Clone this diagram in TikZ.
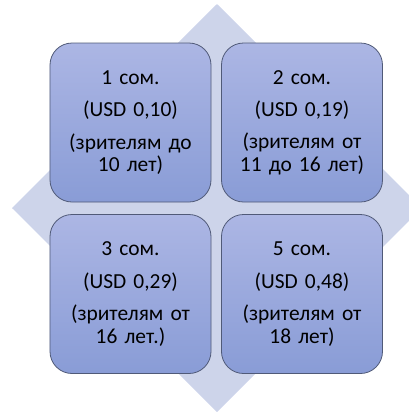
\documentclass[tikz,border=0pt]{standalone}
\usepackage{fontspec}
\setmainfont{Carlito}
\usetikzlibrary{positioning}
\definecolor{diamondfill}{RGB}{205,212,234}
\definecolor{boxtop}{RGB}{172,182,228}
\definecolor{boxbottom}{RGB}{137,156,214}
\definecolor{boxline}{RGB}{80,90,120}

\begin{document}
\begin{tikzpicture}[x=1bp, y=-1bp, every node/.style={font=\fontsize{21.5}{22.5}\selectfont}]
      \tikzset{
	  price/.style={rectangle, rounded corners=22bp, top color=boxtop, bottom color=boxbottom, draw=boxline, line width=0.8bp, minimum width=161bp, minimum height=159bp, align=center, text width=155bp, inner sep=0bp},
      }
      \useasboundingbox (0,0) rectangle (409,412);
      \clip (0,0) rectangle (409,412);
      % diamond behind the boxes
      \fill[diamondfill] (217,4) -- (422,208) -- (217,412) -- (12,208) -- cycle;

      \node (one) at (130.5, 122.5) [price] {1 сом.\\[10bp] (USD 0,10)\\[10bp] (зрителям до\\ 10 лет)};
      \node (two) at (302, 122.5) [price] {2 сом.\\[10bp] (USD 0,19)\\[10bp] (зрителям от\\ 11 до 16 лет)};
      \node (three) at (130.5, 294) [price] {3 сом.\\[10bp] (USD 0,29)\\[10bp] (зрителям от\\ 16 лет.)};
      \node (five) at (302, 294) [price] {5 сом.\\[10bp] (USD 0,48)\\[10bp] (зрителям от\\ 18 лет)};
\end{tikzpicture}
\end{document}
